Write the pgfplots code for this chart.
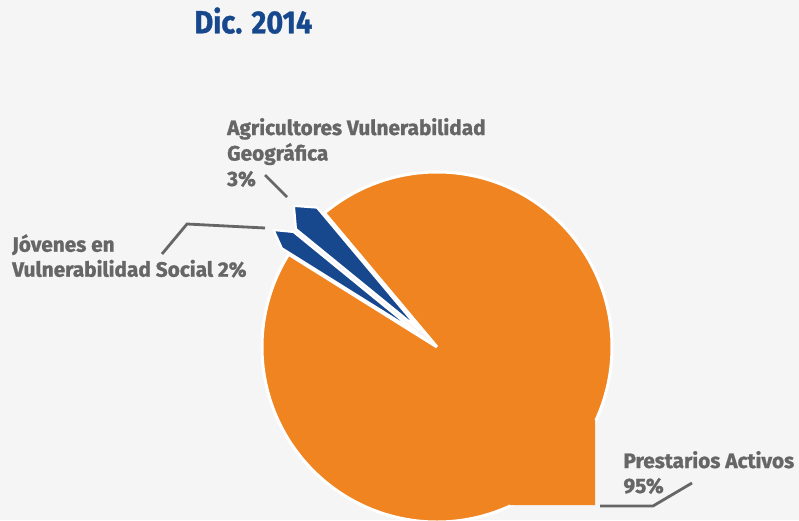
\documentclass[border=0pt]{standalone}
\usepackage{pgfplots}
\pgfplotsset{compat=1.18}
\usepackage{graphicx}
\usepackage{fontspec}
\setmainfont{Fira Sans}

\definecolor{bgc}{HTML}{F5F5F5}
\definecolor{orangec}{HTML}{EF8421}
\definecolor{bluec}{HTML}{17488E}
\definecolor{textc}{HTML}{666666}

% slice values (%)
\def\valPrest{95}
\def\valAgri{3}
\def\valJov{2}
\def\startAngle{130}
\def\R{175}      % pie radius
\def\expl{24}    % explode distance of the small slices
\def\rEdge{160}  % small slices: edge length
\def\rTip{177}   % small slices: outer point

\pgfmathsetmacro{\aA}{\startAngle}
\pgfmathsetmacro{\aB}{\aA+3.6*\valAgri}
\pgfmathsetmacro{\aC}{\aB+3.6*\valJov}
\pgfmathsetmacro{\aD}{\aC+3.6*\valPrest}

% Agricultores slice
\pgfmathsetmacro{\mA}{(\aA+\aB)/2}
\pgfmathsetmacro{\tAx}{\expl*cos(\mA)}
\pgfmathsetmacro{\tAy}{\expl*sin(\mA)}
\pgfmathsetmacro{\pAx}{\tAx+\rEdge*cos(\aA)}
\pgfmathsetmacro{\pAy}{\tAy+\rEdge*sin(\aA)}
\pgfmathsetmacro{\qAx}{\tAx+\rTip*cos(\mA)}
\pgfmathsetmacro{\qAy}{\tAy+\rTip*sin(\mA)}
\pgfmathsetmacro{\sAx}{\tAx+\rEdge*cos(\aB)}
\pgfmathsetmacro{\sAy}{\tAy+\rEdge*sin(\aB)}
% Jovenes slice
\pgfmathsetmacro{\mB}{(\aB+\aC)/2}
\pgfmathsetmacro{\tBx}{\expl*cos(\mB)}
\pgfmathsetmacro{\tBy}{\expl*sin(\mB)}
\pgfmathsetmacro{\pBx}{\tBx+\rEdge*cos(\aB)}
\pgfmathsetmacro{\pBy}{\tBy+\rEdge*sin(\aB)}
\pgfmathsetmacro{\qBx}{\tBx+\rTip*cos(\mB)}
\pgfmathsetmacro{\qBy}{\tBy+\rTip*sin(\mB)}
\pgfmathsetmacro{\sBx}{\tBx+\rEdge*cos(\aC)}
\pgfmathsetmacro{\sBy}{\tBy+\rEdge*sin(\aC)}

\newcommand\labelfont{\fontsize{20.8}{24}\selectfont\bfseries\addfontfeature{FakeBold=1.2}}

\begin{document}
\begin{tikzpicture}
\fill[bgc] (-437pt,-173pt) rectangle (362pt,347pt);
\begin{axis}[
    x=1pt, y=1pt,
    xmin=-437, xmax=362, ymin=-173, ymax=347,
    hide axis, clip=false,
    anchor=origin, at={(0,0)},
]
% main slice
\addplot[fill=orangec, draw=white, line width=3pt, line join=round,
    domain=\aC-1:\aD+1, samples=345, variable=\t]
    ({((\t>\aC-0.5 && \t<\aD+0.5) ? \R : 0)*cos(\t)},
     {((\t>\aC-0.5 && \t<\aD+0.5) ? \R : 0)*sin(\t)});
\addplot[fill=orangec, draw=none] coordinates {(0,0) (73,-158) (158,-158) (158,-73)};
% small slices
\addplot[fill=bluec, draw=white, line width=2.2pt, line join=round]
    coordinates {(\tAx,\tAy) (\pAx,\pAy) (\qAx,\qAy) (\sAx,\sAy) (\tAx,\tAy)};
\addplot[fill=bluec, draw=white, line width=2.2pt, line join=round]
    coordinates {(\tBx,\tBy) (\pBx,\pBy) (\qBx,\qBy) (\sBx,\sBy) (\tBx,\tBy)};

% leader lines
\draw[textc, line width=2.8pt] (axis cs:-172,172) -- (axis cs:-150,150);
\draw[textc, line width=2.8pt] (axis cs:-275,93) -- (axis cs:-250,123) -- (axis cs:-172,119);
\draw[textc, line width=2.8pt] (axis cs:163,-159) -- (axis cs:216,-159) -- (axis cs:255,-136);

% labels
\begin{scope}[every node/.style={anchor=base west, text=textc, inner sep=0pt, font=\labelfont}]
\node at (axis cs:-210,212) {Agricultores Vulnerabilidad};
\node at (axis cs:-210,186.5) {Geográfica};
\node at (axis cs:-210,161) {3\%};
\node at (axis cs:-425,95.3) {Jóvenes en};
\node at (axis cs:-425,70.3) {Vulnerabilidad Social 2\%};
\node at (axis cs:186.3,-121) {Prestarios Activos};
\node at (axis cs:186.3,-146) {95\%};
\end{scope}
\node[anchor=base west, inner sep=0pt, text=bluec] at (axis cs:-242.7,313.7)
    {\scalebox{0.9}[1]{\fontsize{32}{32}\selectfont\bfseries\addfontfeature{FakeBold=1} Dic. 2014}};
\end{axis}
\pgfresetboundingbox
\path[use as bounding box] (-437pt,-173pt) rectangle (362pt,347pt);
\end{tikzpicture}
\end{document}
